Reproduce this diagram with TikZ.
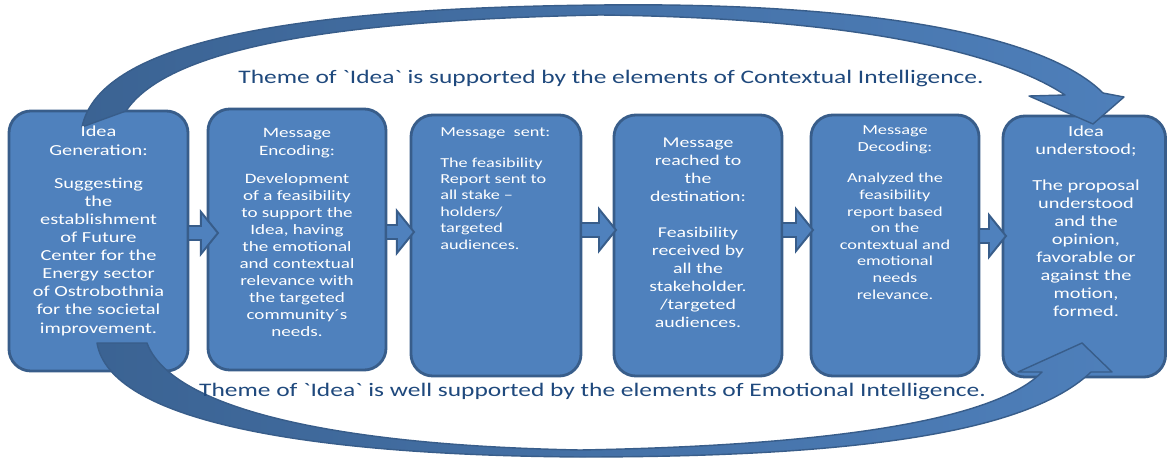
\documentclass[tikz,border=0pt]{standalone}
\usepackage{fontspec}
\newfontfamily\diagfont{Carlito}[FakeStretch=1.33]
\usetikzlibrary{calc}

\definecolor{boxfill}{HTML}{4F81BD}
\definecolor{boxline}{HTML}{385D8A}
\definecolor{bandback}{HTML}{3B6393}
\definecolor{bandmid}{HTML}{41699C}
\definecolor{bandfront}{HTML}{4E7FBA}
\definecolor{themetext}{HTML}{1F497D}

\tikzset{
  stage/.style={draw=boxline, fill=boxfill, line width=2pt, rounded corners=0.55cm,
                outer sep=0pt, inner sep=0pt},
  stagetext/.style={text=white, inner sep=0pt, anchor=base, font=\diagfont},
  theme/.style={text=themetext, inner sep=0pt, anchor=base,
                font=\diagfont\fontsize{13.6pt}{16pt}\selectfont},
  band/.style={draw=boxline, line width=1pt, line join=round,
               left color=bandback, middle color=bandmid, right color=bandfront},
  flowarrow/.style={draw=boxline, fill=boxfill, line width=1.4pt, line join=miter},
}

% block arrow from the east side of #1 to the west side of #2,
% at height #3 (px), its tip reaching #4 px past the west side
\newcommand\linkstages[4]{%
  \coordinate (fa-s) at (#1.east |- 0,#3);
  \coordinate (fa-e) at ($(#2.west |- 0,#3)+(#4,0)$);
  \draw[flowarrow] ($(fa-s)+(0,-7)$) -- ($(fa-e)+(-17,-7)$) -- ($(fa-e)+(-17,-21)$)
    -- (fa-e) -- ($(fa-e)+(-17,21)$) -- ($(fa-e)+(-17,7)$) -- ($(fa-s)+(0,7)$) -- cycle;
}

\begin{document}
\begin{tikzpicture}[x=0.025cm, y=-0.025cm]
\useasboundingbox (0,0) rectangle (1169,459);
\fill[white] (0,0) rectangle (1169,459);

% the six stages
\node[stage, minimum width=4.475cm, minimum height=6.5cm]   (b1) at (98.5,241)   {};
\node[stage, minimum width=4.45cm,  minimum height=6.525cm] (b2) at (297,239.5)  {};
\node[stage, minimum width=4.25cm,  minimum height=6.525cm] (b3) at (496,245.5)  {};
\node[stage, minimum width=4.2cm,   minimum height=6.525cm] (b4) at (698,245.5)  {};
\node[stage, minimum width=4.2cm,   minimum height=6.525cm] (b5) at (895,245.5)  {};
\node[stage, minimum width=4.0625cm,minimum height=6.525cm] (b6) at (1084.25,246.5) {};

% block arrows between neighbouring stages
\linkstages{b1}{b2}{233}{10}
\linkstages{b2}{b3}{232}{3}
\linkstages{b3}{b4}{230}{2}
\linkstages{b4}{b5}{230}{2}
\linkstages{b5}{b6}{236}{3}

% upper curved arrow: Idea Generation -> Idea understood
\draw[band] (82,127) .. controls (100,40) and (300,8) .. (600,5)
  .. controls (870,2) and (1045,35) .. (1103,93)
  -- (1124,97) -- (1093,124) -- (1029,96) -- (1065,95)
  .. controls (1005,55) and (865,18) .. (600,15)
  .. controls (350,20) and (170,45) .. (126,111) -- cycle;

% lower curved arrow: Idea Generation -> Idea understood
\draw[band] (97,343) .. controls (110,420) and (300,455) .. (580,457)
  .. controls (870,457) and (1030,430) .. (1091,372)
  -- (1112,372) -- (1082,343) -- (1018,372) -- (1042,372)
  .. controls (1000,415) and (860,445) .. (580,450)
  .. controls (320,445) and (170,405) .. (147,343) -- cycle;

% stage texts
\node[stagetext] (t1) at (98.5,137) {\parbox[t]{4.4cm}{\centering
  \fontsize{10.9pt}{12.87pt}\selectfont
  Idea\\Generation:\\[10.7pt]Suggesting\\the\\establishment\\of Future\\Center for the\\Energy sector\\of Ostrobothnia\\for the societal\\improvement.}};

\node[stagetext] (t2) at (297,138) {\parbox[t]{4.4cm}{\centering
  \fontsize{10.2pt}{12.16pt}\selectfont
  Message\\Encoding:\\[7.7pt]Development\\of a feasibility\\to support the\\Idea, having\\the emotional\\and contextual\\relevance with\\the targeted\\community´s\\needs.}};

\node[stagetext, anchor=base west] (t3) at (440,137) {\parbox[t]{3.6cm}{\raggedright
  \fontsize{9.75pt}{11.67pt}\selectfont
  Message~ sent:\\[9.7pt]The feasibility\\Report sent to\\all stake –\\holders/\\targeted\\audiences.}};

\node[stagetext] (t4) at (698,148) {\parbox[t]{4.2cm}{\centering
  \fontsize{10.6pt}{12.8pt}\selectfont
  Message\\reached to\\the\\destination:\\[12.1pt]Feasibility\\received by\\all the\\stakeholder.\\/targeted\\audiences.}};

\node[stagetext] (t5) at (895,135) {\parbox[t]{4.2cm}{\centering
  \fontsize{9.8pt}{11.8pt}\selectfont
  Message\\Decoding:\\[10.5pt]Analyzed the\\feasibility\\report based\\on the\\contextual and\\emotional\\needs\\relevance.}};

\node[stagetext] (t6) at (1086,137) {\parbox[t]{4.0cm}{\centering
  \fontsize{10.9pt}{12.8pt}\selectfont
  Idea\\understood;\\[12.1pt]The proposal\\understood\\and the\\opinion,\\favorable or\\against the\\motion,\\formed.}};

% themes carried by the two curved arrows
\node[theme] (ctx) at (611,84) {Theme of `Idea` is supported by the elements of Contextual Intelligence.};
\node[theme] (emo) at (592.5,396) {Theme of `Idea` is well supported by the elements of Emotional Intelligence.};
\end{tikzpicture}
\end{document}
